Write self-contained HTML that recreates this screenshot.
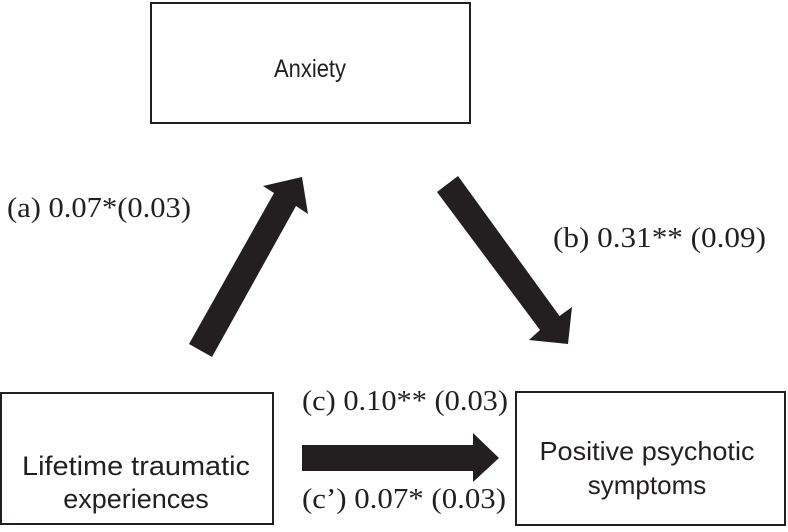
<!DOCTYPE html>
<html><head><style>html,body{margin:0;padding:0;background:#fff}</style></head><body>
<svg width="788" height="527" viewBox="0 0 788 527" xmlns="http://www.w3.org/2000/svg">
<g fill="#fff" stroke="#231f20" stroke-width="2">
<rect x="151" y="3" width="319" height="120"/>
<rect x="1" y="393" width="272" height="131"/>
<rect x="516" y="392" width="269" height="133"/>
</g>
<g fill="#231f20">
<polygon points="189,344 274,193 263,186 302,177 308,214 296,206 212,357"/>
<polygon points="437,192 458,176 559.5,316 572,307 568,344 529,340 540,330"/>
<polygon points="302,445 473,445 473,433 499,458 473,482 473,471 302,471"/>
</g>
<g font-family="'Liberation Sans','DejaVu Sans',sans-serif" fill="#231f20" text-anchor="middle">
<text x="310" y="77" font-size="25" textLength="72" lengthAdjust="spacingAndGlyphs">Anxiety</text>
<text x="136" y="475" font-size="27" textLength="228" lengthAdjust="spacingAndGlyphs">Lifetime traumatic</text>
<text x="136" y="508" font-size="27">experiences</text>
<text x="647" y="460" font-size="26" textLength="215" lengthAdjust="spacingAndGlyphs">Positive psychotic</text>
<text x="647" y="494" font-size="26">symptoms</text>
</g>
<g font-family="'Liberation Serif',serif" font-size="29" fill="#231f20">
<text x="7" y="217" textLength="184" lengthAdjust="spacingAndGlyphs">(a) 0.07*(0.03)</text>
<text x="553" y="247" textLength="213" lengthAdjust="spacingAndGlyphs">(b) 0.31** (0.09)</text>
<text x="302" y="410" textLength="206" lengthAdjust="spacingAndGlyphs">(c) 0.10** (0.03)</text>
<text x="302" y="508" textLength="204" lengthAdjust="spacingAndGlyphs">(c’) 0.07* (0.03)</text>
</g>
</svg>
</body></html>
